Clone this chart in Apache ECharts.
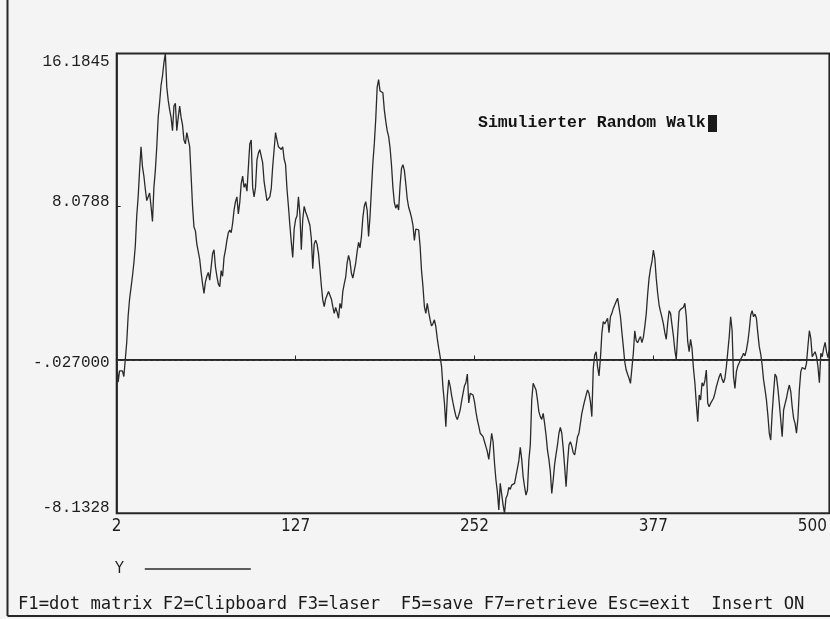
<!DOCTYPE html>
<html><head><meta charset="utf-8">
<script src="https://cdn.jsdelivr.net/npm/echarts@6/dist/echarts.min.js"></script>
<style>html,body{margin:0;padding:0;background:#f4f4f4}#c{width:830px;height:619px}</style>
</head><body><div id="c"></div>
<script>
// ---- data ----
const startIndex = 2;
const yValues = [
  -0.03, -1.2, -0.6, -0.65, -0.6, -0.9, -0.95, 0.9, 2.3, 3.2,          // 2-11
  3.8, 4.4, 5.1, 6.0, 7.6, 8.6, 10.0, 11.25, 10.2, 9.7,                // 12-21
  9.0, 8.4, 8.6, 8.8, 8.1, 7.3, 9.1, 10.0, 11.25, 12.8,                // 22-31
  13.6, 14.5, 15.0, 15.7, 16.1845, 14.4, 13.7, 13.2, 12.8, 12.1,       // 32-41
  13.4, 13.55, 12.1, 12.8, 13.4, 12.8, 12.4, 11.6, 11.4, 12.0,         // 42-51
  11.9, 11.25, 9.7, 8.1, 7.0, 6.8, 6.1, 6.0, 5.3, 4.6,                 // 52-61
  4.0, 3.5, 4.1, 4.4, 4.6, 4.2, 4.9, 5.6, 5.8, 4.9,                    // 62-71
  4.4, 4.0, 3.85, 4.7, 4.4, 5.4, 5.8, 6.3, 6.7, 6.85,                  // 72-81
  6.7, 7.2, 7.9, 8.35, 8.6, 7.7, 8.3, 9.3, 9.7, 9.1,                   // 82-91
  9.3, 8.9, 8.8, 11.4, 11.6, 9.1, 8.6, 9.1, 10.55, 10.9,               // 92-101
  11.1, 11.0, 10.4, 9.4, 8.9, 8.4, 8.3, 8.6, 9.05, 10.2,               // 102-111
  11.1, 12.0, 11.6, 11.25, 11.3, 11.1, 11.25, 10.6, 10.3, 9.0,         // 112-121
  8.1, 7.1, 6.2, 5.4, 6.9, 7.4, 7.6, 8.6, 7.7, 5.8,                    // 122-131
  7.4, 8.1, 7.8, 7.6, 7.5, 7.1, 6.4, 4.8, 6.1, 6.3,                    // 132-141
  6.1, 5.6, 4.8, 3.9, 3.15, 2.8, 3.2, 3.15, 3.6, 3.7,                  // 142-151
  3.2, 2.8, 2.44, 2.75, 2.5, 2.18, 2.97, 2.7, 3.6, 4.0,                // 152-161
  4.35, 5.1, 5.5, 5.2, 4.56, 4.3, 4.7, 5.1, 5.7, 6.2,                  // 162-171
  5.9, 6.5, 7.5, 8.1, 8.35, 7.9, 6.5, 7.55, 9.0, 10.4,                 // 172-181
  11.4, 12.7, 14.4, 14.8, 14.2, 14.3, 14.1, 13.2, 12.6, 12.1,          // 182-191
  11.8, 11.2, 10.3, 9.1, 8.3, 8.0, 8.2, 7.9, 9.2, 10.1,                // 192-201
  10.3, 10.0, 9.3, 8.5, 8.05, 7.8, 7.5, 7.1, 6.3, 6.9,                 // 202-211
  7.0, 6.85, 6.0, 4.7, 3.85, 2.8, 2.44, 2.97, 2.5, 2.1,                // 212-221
  1.77, 1.9, 2.1, 1.74, 1.1, 0.6, 0.15, -0.38, -1.5, -2.3,             // 222-231
  -3.55, -1.97, -1.08, -1.4, -1.9, -2.3, -2.67, -3.0, -3.17, -2.94,    // 232-241
  -2.67, -2.2, -1.79, -1.4, -1.23, -0.77, -2.3, -1.79, -1.7, -1.88,    // 242-251
  -2.23, -2.76, -3.2, -3.52, -3.9, -4.0, -4.08, -4.35, -4.61, -4.88,   // 252-261
  -5.28, -4.61, -3.9, -4.35, -5.49, -6.37, -7.0, -7.96, -6.55, -6.55,  // 262-271
  -7.7, -8.1328, -7.34, -7.17, -6.76, -6.87, -6.64, -6.69, -6.55, -6.16, // 272-281
  -5.76, -5.35, -4.65, -5.28, -6.2, -6.73, -7.17, -6.9, -5.32, -4.52,  // 282-291
  -2.14, -1.26, -1.17, -1.61, -2.14, -2.76, -3.02, -3.17, -2.85, -3.38, // 292-301
  -4.0, -4.79, -5.28, -5.93, -7.08, -6.37, -5.53, -5.0, -4.52, -3.9,   // 302-311
  -3.59, -3.9, -4.7, -5.67, -6.73, -5.49, -4.52, -4.35, -4.58, -4.93,  // 312-321
  -5.05, -4.58, -4.08, -3.9, -3.38, -2.85, -2.5, -2.18, -1.88, -1.61,  // 322-331
  -1.79, -2.23, -3.02, -0.47, 0.24, 0.41, -0.38, -0.87, 0.06, 1.38,    // 332-341
  2.0, 1.88, 1.88, 2.18, 1.42, 2.26, 2.44, 2.7, 2.88, 3.06,            // 342-351
  3.24, 3.24, 2.26, 1.45, 0.68, -0.12, -0.56, -0.78, -0.99, -1.26,     // 352-361
  -1.26, 0.33, 1.52, 1.0, 0.89, 1.07, 1.21, 0.89, 1.17, 1.74,          // 362-371
  2.4, 3.45, 4.3, 4.82, 5.17, 5.79, 5.35, 4.3, 3.5, 2.88,              // 372-381
  2.53, 2.23, 1.88, 1.42, 1.07, 1.91, 2.58, 2.44, 1.83, 1.24,          // 382-391
  0.5, 0.01, 1.35, 2.53, 2.65, 2.65, 2.76, 2.97, 2.26, 0.94,           // 392-401
  0.41, 1.07, 0.59, -0.47, -1.23, -2.32, -3.29, -1.88, -2.14, -1.23,   // 402-411
  -1.4, -1.12, -0.56, -2.32, -2.5, -2.32, -2.32, -2.05, -1.79, -1.44,  // 412-421
  -1.17, -0.91, -0.73, -1.05, -1.23, -0.99, -0.38, 0.41, 1.21, 2.26,   // 422-431
  1.56, -0.91, -1.53, -0.64, -0.34, -0.17, 0.01, 0.15, 0.33, 0.19,     // 432-441
  0.5, 0.94, 1.56, 2.35, 2.58, 2.26, 2.4, 2.18, 1.38, 0.68,            // 442-451
  0.29, -0.29, -1.08, -1.58, -2.14, -2.94, -3.9, -4.26, -2.85, -1.75,  // 452-461
  -0.77, -0.91, -1.53, -2.32, -3.2, -4.08, -2.67, -2.35, -2.05, -1.65, // 462-471
  -1.35, -1.7, -2.5, -3.11, -3.38, -3.9, -3.11, -1.61, -0.64, -0.42,   // 472-481
  -0.47, -0.52, -0.2, 0.71, 1.52, 1.12, 0.15, 0.24, 0.41, 0.15,        // 482-491
  -0.38, -1.23, 0.33, 0.15, 0.6, 0.9, 0.4, 0.1, 0.5                    // 492-500
];
const xTickValues = [2, 127, 252, 377, 500];
const xTickLabels = ['2', '127', '252', '377', '500'];
const yTickValues = [-8.1328, -0.027, 8.0788, 16.1845];
const yTickLabels = ['-8.1328', '-.027000', '8.0788', '16.1845'];
const baselineValue = -0.027;
const seriesName = 'Y';
const titleText = 'Simulierter Random Walk';
const footerText = 'F1=dot matrix F2=Clipboard F3=laser  F5=save F7=retrieve Esc=exit  Insert ON';

// ---- chart ----
const points = yValues.map((v, i) => [startIndex + i, v]);
const INK = '#262626';
const MONO = "'Liberation Mono','DejaVu Sans Mono',monospace";
const NARROW = "'Liberation Sans Narrow','DejaVu Sans Condensed','DejaVu Sans',sans-serif";

function yIdx(v) { return yTickValues.findIndex(t => Math.abs(t - v) < 1e-6); }
function xIdx(v) { return xTickValues.findIndex(t => Math.abs(t - v) < 1e-6); }

const chart = echarts.init(document.getElementById('c'), null, {renderer: 'canvas'});
chart.setOption({
  backgroundColor: '#f4f4f4',
  animation: false,
  grid: {left: 116.7, top: 53.4, right: -7, bottom: 105.7, show: true,
         borderColor: INK, borderWidth: 2, backgroundColor: 'transparent'},
  xAxis: {
    type: 'value', min: 2, max: 500,
    axisLine: {show: true, lineStyle: {color: INK, width: 2}},
    axisTick: {show: true, inside: true, length: 4, customValues: xTickValues, lineStyle: {color: INK}},
    splitLine: {show: false},
    axisLabel: {
      customValues: xTickValues, margin: 5, color: '#1e1e1e',
      fontFamily: NARROW, fontSize: 17,
      formatter: v => { const i = xIdx(v); const s = xTickLabels[i];
        return i === xTickValues.length - 1 ? '{last|' + s + '}' : s; },
      rich: {last: {align: 'right', padding: [0, 34, 0, 0], fontFamily: NARROW, fontSize: 17, color: '#1e1e1e'}}
    }
  },
  yAxis: {
    type: 'value', min: -8.1328, max: 16.1845,
    axisLine: {show: true, lineStyle: {color: INK, width: 1.5}},
    axisTick: {show: true, inside: true, length: 4, customValues: yTickValues, lineStyle: {color: INK}},
    splitLine: {show: false},
    axisLabel: {
      customValues: yTickValues, margin: 7, color: '#1e1e1e',
      fontFamily: MONO, fontSize: 16,
      formatter: v => '{t' + yIdx(v) + '|' + yTickLabels[yIdx(v)] + '}',
      rich: {
        t0: {padding: [0, 0, 12, 0], fontFamily: MONO, fontSize: 16, color: '#1e1e1e'},
        t1: {padding: [6, 0, 0, 0], fontFamily: MONO, fontSize: 16, color: '#1e1e1e'},
        t2: {padding: [0, 0, 10, 0], fontFamily: MONO, fontSize: 16, color: '#1e1e1e'},
        t3: {padding: [16, 0, 0, 0], fontFamily: MONO, fontSize: 16, color: '#1e1e1e'}
      }
    }
  },
  legend: {
    show: true, data: [seriesName], left: 110, top: 556, align: 'right',
    icon: 'rect', itemWidth: 106, itemHeight: 1.6, selectedMode: false,
    textStyle: {fontFamily: NARROW, fontSize: 16, color: '#1e1e1e', padding: [0, 16, 0, 0]}
  },
  series: [{
    name: seriesName, type: 'line', data: points, showSymbol: false, symbol: 'none',
    lineStyle: {color: '#2a2a2a', width: 1.3}, itemStyle: {color: '#2a2a2a'},
    clip: true,
    markLine: {
      silent: true, symbol: 'none', label: {show: false},
      lineStyle: {type: 'dashed', dashOffset: 0, color: '#3a3a3a', width: 1},
      data: [{yAxis: baselineValue}]
    }
  }],
  graphic: [
    {type: 'text', left: 478, top: 114,
     style: {text: titleText, font: "bold 16.5px " + MONO, fill: '#141414'}},
    {type: 'rect', shape: {x: 708, y: 115, width: 9, height: 17}, style: {fill: '#1a1a1a'}},
    {type: 'text', left: 18, top: 596,
     style: {text: footerText, font: "17.2px 'DejaVu Sans Mono',monospace", fill: '#1a1a1a'}},
    {type: 'line', shape: {x1: 7.5, y1: 0, x2: 7.5, y2: 616}, style: {stroke: INK, lineWidth: 2}},
    {type: 'line', shape: {x1: 7.5, y1: 616, x2: 830, y2: 616}, style: {stroke: INK, lineWidth: 2}}
  ]
});
</script>
</body></html>
